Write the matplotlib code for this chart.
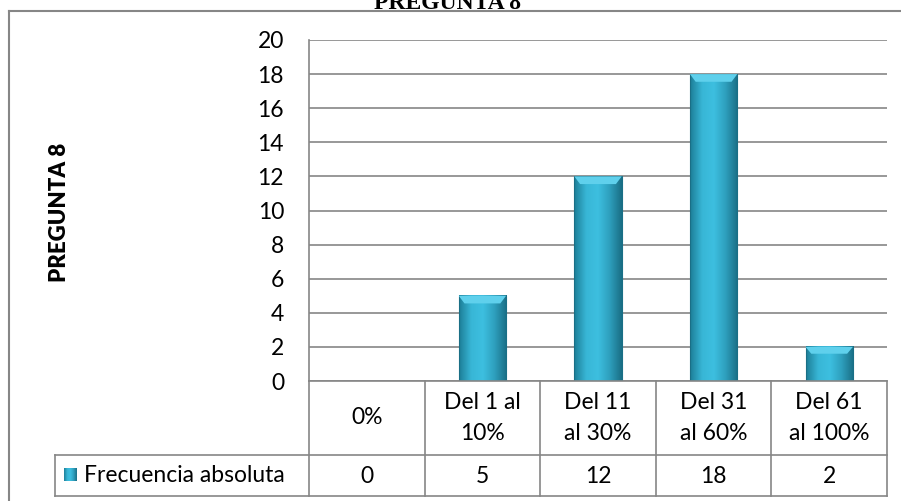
import numpy as np
import matplotlib
matplotlib.use("Agg")
import matplotlib.pyplot as plt
from matplotlib.colors import LinearSegmentedColormap
from matplotlib.lines import Line2D

# data
categories = ["0%", "Del 1 al\n10%", "Del 11\nal 30%", "Del 31\nal 60%", "Del 61\nal 100%"]
values = [0, 5, 12, 18, 2]
series_name = "Frecuencia absoluta"
title = "PREGUNTA 8"
y_label = "PREGUNTA 8"
y_ticks = [0, 2, 4, 6, 8, 10, 12, 14, 16, 18, 20]

W, H = 901, 501
GRID = "#868686"
FS = 16.5
plt.rcParams["font.family"] = ["Lato", "DejaVu Sans"]

fig = plt.figure(figsize=(W / 100, H / 100), dpi=100)


def fx(px):
    return px / W


def fy(py):
    return 1 - py / H


# pixel layout of the plot area and table
x0, x1 = 309, 887
y_top, y_zero = 40, 381
row_mid, row_bot = 455, 496
label_left = 55

ax = fig.add_axes([fx(x0), fy(y_zero), fx(x1 - x0), (y_zero - y_top) / H])
n = len(categories)
ax.set_yticks(y_ticks)
ax.set_yticklabels([str(t) for t in y_ticks], fontsize=FS)
ax.tick_params(axis="y", length=0, pad=18)
ax.set_xticks([])
ax.grid(True, axis="y", color=GRID, linewidth=1.2)
ax.set_axisbelow(True)
for s in ["top", "right", "bottom"]:
    ax.spines[s].set_visible(False)
ax.spines["left"].set_color(GRID)
ax.spines["left"].set_linewidth(1.2)

# bars with a horizontal shading gradient
cmap = LinearSegmentedColormap.from_list(
    "bev", ["#1d7f98", "#38b6d6", "#3dbfe0", "#2e9fbd", "#1a6f86"])
grad = np.linspace(0, 1, 64).reshape(1, -1)
bw = 0.41
bars = ax.bar(np.arange(n) + 0.5, values, width=bw, color="none",
              edgecolor="#1a6f86", linewidth=0.8, zorder=3)
for b, v in zip(bars, values):
    if v <= 0:
        continue
    xl = b.get_x()
    ax.imshow(grad, cmap=cmap, aspect="auto", zorder=2.9,
              extent=(xl, xl + bw, 0, v), interpolation="bicubic")
    # lighter bevel at the top of each bar
    cap = min(0.45, v * 0.2)
    ax.add_patch(plt.Polygon([(xl, v), (xl + bw, v), (xl + bw - 0.05, v - cap),
                              (xl + 0.05, v - cap)], closed=True,
                             facecolor="#5fd0ec", edgecolor="none", zorder=3))
ax.set_xlim(0, n)
ax.set_ylim(0, 20)

# y-axis title
fig.text(fx(60), fy(212), y_label, rotation=90, ha="center", va="center",
         fontsize=16, fontweight="heavy")

# chart title (cut off at the top, as in the reference)
fig.text(fx(447), fy(9), title, ha="center", va="baseline",
         fontsize=17, fontweight="bold", family="Liberation Serif")

# chart border
fig.add_artist(Line2D([fx(9), fx(W + 5)], [fy(11), fy(11)], color=GRID, lw=1.5))
fig.add_artist(Line2D([fx(9), fx(9)], [fy(11), fy(H + 5)], color=GRID, lw=1.5))

# data table under the axis
cw = (x1 - x0) / n
lines = [
    ([x0, x1], [y_zero, y_zero]),
    ([label_left, x1], [row_mid, row_mid]),
    ([label_left, x1], [row_bot, row_bot]),
    ([label_left, label_left], [row_mid, row_bot]),
    ([x0, x0], [y_zero, row_bot]),
]
for i in range(1, n + 1):
    xc = x0 + cw * i
    lines.append(([xc, xc], [y_zero, row_bot]))
for xs, ys in lines:
    fig.add_artist(Line2D([fx(v) for v in xs], [fy(v) for v in ys],
                          color=GRID, lw=1.2))

for i, (cat, v) in enumerate(zip(categories, values)):
    xc = x0 + cw * (i + 0.5)
    fig.text(fx(xc), fy((y_zero + row_mid) / 2), cat, ha="center", va="center",
             fontsize=FS, linespacing=1.55)
    fig.text(fx(xc), fy((row_mid + row_bot) / 2 + 1), str(v), ha="center",
             va="center", fontsize=FS)

# legend key + series name
key = fig.add_axes([fx(64), fy(481), fx(13), 13 / H])
key.imshow(grad, cmap=cmap, aspect="auto", interpolation="bicubic")
key.axis("off")
fig.text(fx(84), fy(475), series_name, ha="left", va="center", fontsize=FS)

fig.savefig("out.png", dpi=100)
